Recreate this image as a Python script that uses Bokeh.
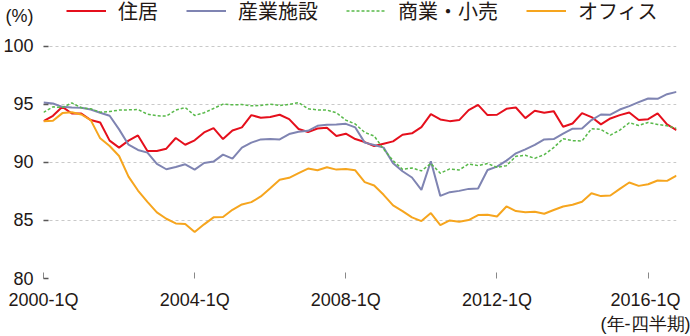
from bokeh.plotting import figure
from bokeh.models import Range1d, FixedTicker, Legend, LegendItem
from bokeh.embed import file_html
from bokeh.resources import INLINE

# quarterly index, 2000-1Q ... 2016-4Q
quarter_labels = [f"{2000 + i // 4}-{i % 4 + 1}Q" for i in range(68)]
tick_labels = ["2000-1Q", "2004-1Q", "2008-1Q", "2012-1Q", "2016-1Q\n(年-四半期)"]
tick_quarters = ["2000-1Q", "2004-1Q", "2008-1Q", "2012-1Q", "2016-1Q"]
y_ticks = [80, 85, 90, 95, 100]
unit_label = "(%)"
unit_pos = 102.55
series_names = ["住居", "産業施設", "商業・小売", "オフィス"]

residential = [93.54, 94.0, 94.77, 94.2, 94.2, 93.63, 93.43, 91.86, 91.26, 91.86, 92.31, 90.97,
               90.97, 91.17, 92.09, 91.51, 91.89, 92.57, 92.94, 92.0, 92.74, 93.0, 94.06,
               93.83, 93.89, 94.09, 93.71, 92.86, 92.6, 92.91, 92.97, 92.26, 92.46, 92.0,
               91.74, 91.4, 91.6, 91.8, 92.37, 92.49, 93.03, 94.14, 93.69, 93.54, 93.63,
               94.49, 94.94, 94.06, 94.09, 94.6, 94.71, 93.8, 94.43, 94.26, 94.4, 93.06,
               93.34, 94.23, 93.89, 93.26, 93.77, 94.06, 94.29, 93.63, 93.71, 94.2, 93.26, 92.77]
industrial = [95.14, 95.06, 94.77, 94.71, 94.69, 94.54, 94.26, 94.0, 92.83, 91.51, 91.06, 90.83,
              89.86, 89.4, 89.6, 89.83, 89.37, 89.94, 90.06, 90.66, 90.31, 91.26, 91.69,
              91.97, 92.0, 91.97, 92.43, 92.63, 92.71, 93.14, 93.23, 93.26, 93.31, 93.0,
              91.69, 91.49, 91.26, 89.91, 89.23, 88.69, 87.63, 90.09, 87.11, 87.43, 87.54,
              87.71, 87.74, 89.34, 89.63, 90.14, 90.77, 91.11, 91.49, 91.97, 92.0, 92.46,
              92.89, 92.91, 93.63, 94.11, 94.09, 94.54, 94.83, 95.17, 95.49, 95.46, 95.86, 96.06]
retail = [94.29, 94.77, 94.71, 95.11, 94.69, 94.6, 94.31, 94.37, 94.49, 94.51, 94.54, 94.14,
          94.0, 93.97, 94.49, 94.71, 94.03, 94.26, 94.63, 95.0, 94.94, 94.97, 94.86,
          94.89, 95.0, 94.89, 94.97, 95.14, 94.6, 94.51, 94.49, 94.26, 93.63, 93.29,
          92.57, 92.26, 91.14, 90.14, 89.4, 89.51, 89.26, 89.89, 89.06, 89.43, 89.34,
          89.86, 89.71, 89.89, 89.57, 89.71, 90.51, 90.6, 90.34, 90.66, 91.26, 92.03,
          91.86, 91.83, 92.89, 92.83, 92.34, 92.77, 93.4, 93.17, 93.43, 93.26, 93.14, 92.91]
office = [93.54, 93.57, 94.23, 94.31, 94.11, 93.63, 92.06, 91.4, 90.54, 88.77, 87.57, 86.6,
          85.69, 85.14, 84.74, 84.69, 84.0, 84.66, 85.26, 85.29, 85.91, 86.37, 86.57,
          87.06, 87.77, 88.49, 88.66, 89.06, 89.46, 89.31, 89.57, 89.37, 89.43, 89.31,
          88.29, 88.0, 87.2, 86.29, 85.8, 85.26, 84.94, 85.63, 84.6, 85.0, 84.89,
          85.03, 85.46, 85.49, 85.34, 86.2, 85.8, 85.71, 85.74, 85.57, 85.89, 86.2,
          86.34, 86.6, 87.34, 87.09, 87.14, 87.71, 88.26, 87.97, 88.11, 88.43, 88.4, 88.86]

x = list(range(len(quarter_labels)))
tick_pos = [quarter_labels.index(t) for t in tick_quarters]

TEXT = "#231815"
JP = "Noto Sans CJK JP"
NUM = "Liberation Sans"
styles = [dict(line_color="#e50f1c", line_width=2),
          dict(line_color="#7f84b2", line_width=2),
          dict(line_color="#58b94a", line_width=1.5, line_dash="3 2"),
          dict(line_color="#f6a51e", line_width=2)]
series = [residential, industrial, retail, office]

# frame covers the header band too (value scale: 80 at bottom, 100 at 46px from top)
p = figure(width=690, height=336, output_backend="svg", toolbar_location=None,
           x_range=Range1d(0, len(x) - 1), y_range=Range1d(80, 103.92),
           min_border_left=40, min_border_right=14, min_border_top=0, min_border_bottom=57)
p.outline_line_color = None

p.xgrid.grid_line_color = None
p.ygrid.ticker = FixedTicker(ticks=y_ticks)
p.ygrid.grid_line_color = "#c9c9c9"
p.ygrid.grid_line_dash = "3 3"
p.ygrid.grid_line_width = 1

p.yaxis.ticker = FixedTicker(ticks=y_ticks + [unit_pos], minor_ticks=y_ticks)
p.yaxis.major_label_overrides = {unit_pos: unit_label}
p.yaxis.axis_line_color = None
p.yaxis.major_tick_line_color = None
p.yaxis.major_tick_in = 0
p.yaxis.major_tick_out = 0
p.yaxis.minor_tick_in = 5
p.yaxis.minor_tick_out = 0
p.yaxis.minor_tick_line_color = "#595757"
p.yaxis.minor_tick_line_width = 1.5
p.yaxis.major_label_standoff = 10
p.yaxis.major_label_text_font = NUM
p.yaxis.major_label_text_font_size = "18px"
p.yaxis.major_label_text_color = TEXT

p.xaxis.ticker = FixedTicker(ticks=tick_pos)
p.xaxis.major_label_overrides = {pos: lab for pos, lab in zip(tick_pos, tick_labels)}
p.xaxis.axis_line_color = None
p.xaxis.major_tick_in = 6
p.xaxis.major_tick_out = 0
p.xaxis.major_tick_line_color = "#888888"
p.xaxis.major_tick_line_width = 1
p.xaxis.minor_tick_line_color = None
p.xaxis.major_label_standoff = 11
p.xaxis.major_label_text_font = NUM
p.xaxis.major_label_text_font_size = "18px"
p.xaxis.major_label_text_color = TEXT

renderers = [p.line(x, vals, **st) for vals, st in zip(series, styles)]

legend = Legend(items=[LegendItem(label=n, renderers=[r]) for n, r in zip(series_names, renderers)],
                orientation="horizontal", location=(23, 253),
                glyph_width=40, glyph_height=21, label_height=21, label_standoff=12,
                spacing=28, padding=0, margin=0, border_line_color=None,
                background_fill_alpha=0,
                label_text_font=JP, label_text_font_size="20px", label_text_color=TEXT)
p.add_layout(legend, "center")

open("out.html", "w").write(file_html(p, INLINE))
